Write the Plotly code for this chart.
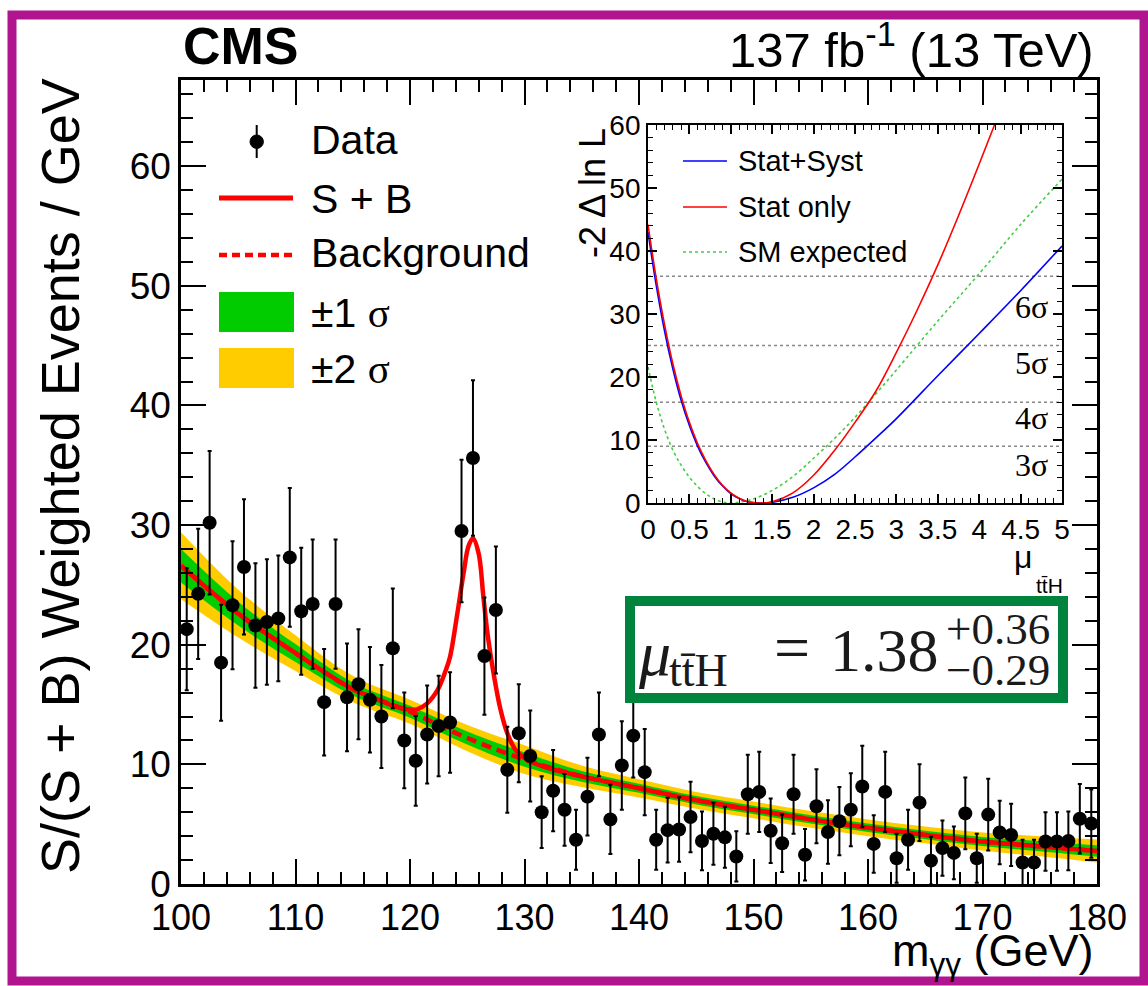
import plotly.graph_objects as go

# ---------------- data ----------------
mass = [100.5 + i for i in range(80)]
events = [21.3, 24.25, 30.2, 18.5, 23.3, 26.5, 21.6, 21.9, 22.2, 27.3,
          22.8, 23.4, 15.2, 23.4, 15.6, 16.7, 15.4, 14.0, 19.7, 12.0,
          10.3, 12.5, 13.2, 13.5, 29.5, 35.6, 19.05, 22.9, 9.55, 12.6,
          10.7, 6.0, 7.8, 6.2, 3.7, 7.3, 12.5, 5.4, 9.9, 12.4,
          9.35, 3.7, 4.5, 4.55, 5.6, 3.6, 4.2, 3.9, 2.3, 7.5,
          7.7, 4.45, 3.4, 7.5, 2.45, 6.5, 4.35, 5.25, 6.2, 8.15,
          3.35, 7.7, 2.15, 3.7, 6.8, 1.95, 3.0, 2.6, 5.9, 2.15,
          5.8, 4.3, 4.1, 1.8, 1.8, 3.55, 3.55, 3.6, 5.45, 5.05]
errors = [5.1, 5.45, 6.0, 4.85, 5.35, 5.65, 5.2, 5.25, 5.25, 5.8,
          5.3, 5.4, 4.45, 5.4, 4.5, 4.6, 4.4, 4.3, 5.0, 4.0,
          3.75, 4.1, 4.2, 4.2, 5.95, 6.5, 4.9, 5.3, 3.6, 4.1,
          3.8, 3.0, 3.4, 3.0, 2.5, 3.25, 3.5, 2.9, 3.7, 3.5,
          3.6, 2.5, 2.7, 2.7, 2.95, 2.45, 2.6, 2.55, 2.1, 3.3,
          3.35, 2.7, 2.4, 3.3, 2.15, 3.1, 2.65, 2.85, 3.05, 3.4,
          2.4, 3.35, 2.05, 2.5, 3.2, 2.0, 2.3, 2.2, 3.0, 2.05,
          3.0, 2.65, 2.6, 1.9, 1.9, 2.45, 2.45, 2.45, 2.9, 2.85]

bkg_x = [100, 105, 110, 115, 120, 125, 130, 135, 140, 145, 150, 155, 160, 165, 170, 175, 180]
bkg_y = [26.6, 22.6, 19.3, 16.3, 14.4, 12.2, 10.4, 9.0, 8.0, 7.0, 6.2, 5.4, 4.7, 4.1, 3.55, 3.15, 2.75]
bkg_1sig = [1.4, 1.0, 0.75, 0.55, 0.5, 0.55, 0.6, 0.45, 0.38, 0.35, 0.35, 0.35, 0.35, 0.35, 0.38, 0.42, 0.48]

sb_x = [100, 105, 110, 115, 117, 118.5, 119.7, 120.6, 121.5, 122.4, 123.1, 123.5, 124.1,
        124.7, 125.1, 125.5, 126.0, 126.4, 126.8, 127.3, 127.9, 128.5, 129.3, 130.2,
        132, 135, 140, 145, 150, 155, 160, 165, 170, 175, 180]
sb_y = [26.6, 22.6, 19.3, 16.3, 15.5, 14.9, 14.6, 14.6, 15.1, 16.2, 17.8, 19.0, 22.4,
        26.1, 28.2, 28.9, 27.6, 24.1, 20.7, 17.6, 14.6, 12.6, 11.1, 10.4,
        9.7, 9.0, 8.0, 7.0, 6.2, 5.4, 4.7, 4.1, 3.55, 3.15, 2.75]

mu_b = [0, 0.1, 0.2, 0.3, 0.4, 0.5, 0.6, 0.7, 0.8, 0.9, 1.0, 1.1, 1.2, 1.3, 1.38,
        1.5, 1.75, 2.0, 2.25, 2.5, 2.75, 3.0, 3.5, 4.0, 4.5, 5.0]
nll_b = [43.0, 34.5, 27.3, 21.3, 16.3, 12.3, 9.0, 6.4, 4.3, 2.7, 1.5, 0.7, 0.2, 0.03, 0,
         0.1, 0.9, 2.4, 4.5, 7.3, 10.3, 13.4, 20.2, 26.9, 33.7, 40.8]
mu_r = [0, 0.1, 0.2, 0.3, 0.4, 0.5, 0.6, 0.7, 0.8, 0.9, 1.0, 1.1, 1.2, 1.3, 1.38,
        1.5, 1.75, 2.0, 2.25, 2.5, 2.75, 3.0, 3.25, 3.5, 3.75, 4.0, 4.25]
nll_r = [44.2, 35.6, 28.3, 22.1, 17.0, 12.8, 9.4, 6.7, 4.5, 2.8, 1.6, 0.75, 0.22, 0.03, 0,
         0.18, 1.6, 4.4, 8.3, 12.8, 17.7, 23.9, 30.6, 37.8, 45.6, 53.8, 62.2]
mu_g = [0, 0.1, 0.2, 0.3, 0.4, 0.5, 0.6, 0.7, 0.8, 0.9, 1.0, 1.25, 1.5, 1.75, 2.0,
        2.25, 2.5, 2.75, 3.0, 3.5, 4.0, 4.5, 5.0]
nll_g = [21.6, 16.0, 11.7, 8.4, 6.0, 4.1, 2.6, 1.45, 0.65, 0.16, 0, 0.55, 2.0, 4.2, 7.1,
         10.2, 13.6, 17.3, 21.1, 28.9, 36.4, 44.2, 51.4]

sigma_levels = [3, 4, 5, 6]
sigma_label_y = [6.0, 13.5, 22.2, 31.1]
legend_labels = ["Data", "S + B", "Background", "±1 σ", "±2 σ"]
inset_labels = ["Stat+Syst", "Stat only", "SM expected"]

# ---------------- styling ----------------
SANS = "Liberation Sans, Arial, Helvetica, sans-serif"
SERIF = "Liberation Serif, Times New Roman, serif"
RED = "#ff0000"
GREEN = "#00cc00"
YELLOW = "#ffcc00"
W, H = 1148, 986
L, R, T, B = 181, 1097, 80, 884


def X(px):
    return (px - L) / (R - L)


def Y(py):
    return (B - py) / (B - T)


fig = go.Figure()

up2 = [b + 2 * s for b, s in zip(bkg_y, bkg_1sig)]
lo2 = [b - 2 * s for b, s in zip(bkg_y, bkg_1sig)]
up1 = [b + s for b, s in zip(bkg_y, bkg_1sig)]
lo1 = [b - s for b, s in zip(bkg_y, bkg_1sig)]

fig.add_trace(go.Scatter(x=bkg_x, y=up2, mode="lines", line=dict(width=0, shape="spline", color=YELLOW),
                         showlegend=False, hoverinfo="skip"))
fig.add_trace(go.Scatter(x=bkg_x, y=lo2, mode="lines", line=dict(width=0, shape="spline", color=YELLOW),
                         fill="tonexty", fillcolor=YELLOW, showlegend=False, hoverinfo="skip"))
fig.add_trace(go.Scatter(x=bkg_x, y=up1, mode="lines", line=dict(width=0, shape="spline", color=GREEN),
                         showlegend=False, hoverinfo="skip"))
fig.add_trace(go.Scatter(x=bkg_x, y=lo1, mode="lines", line=dict(width=0, shape="spline", color=GREEN),
                         fill="tonexty", fillcolor=GREEN, showlegend=False, hoverinfo="skip"))
fig.add_trace(go.Scatter(x=bkg_x, y=bkg_y, mode="lines",
                         line=dict(width=4.5, shape="spline", color=RED, dash="10px,6px"),
                         showlegend=False))
fig.add_trace(go.Scatter(x=sb_x, y=sb_y, mode="lines",
                         line=dict(width=4.5, shape="spline", color=RED), showlegend=False))
fig.add_trace(go.Scatter(x=mass, y=events, mode="markers",
                         marker=dict(size=14, color="black"),
                         error_y=dict(type="data", array=errors, color="black", thickness=2, width=2),
                         showlegend=False))

# inset curves
fig.add_trace(go.Scatter(x=mu_g, y=nll_g, mode="lines", xaxis="x2", yaxis="y2",
                         line=dict(color="#44cc44", width=1.6, dash="dot", shape="spline"), showlegend=False))
fig.add_trace(go.Scatter(x=mu_b, y=nll_b, mode="lines", xaxis="x2", yaxis="y2",
                         line=dict(color="#0000ff", width=1.6, shape="spline"), showlegend=False))
fig.add_trace(go.Scatter(x=mu_r, y=nll_r, mode="lines", xaxis="x2", yaxis="y2",
                         line=dict(color=RED, width=1.6, shape="spline"), showlegend=False))

shapes = []
annotations = []

# sigma reference lines in inset
for s in sigma_levels:
    shapes.append(dict(type="line", xref="x2", yref="y2", x0=0, x1=5, y0=s * s, y1=s * s,
                       line=dict(color="#888888", width=1.5, dash="dot"), layer="below"))
for s, yy in zip(sigma_levels, sigma_label_y):
    annotations.append(dict(xref="x2", yref="y2", x=4.86, y=yy, xanchor="right", yanchor="middle",
                            text=f"{s}σ", showarrow=False, font=dict(family=SERIF, size=32, color="black")))

# magenta frame
shapes.append(dict(type="rect", xref="paper", yref="paper", x0=X(12), x1=X(1144), y0=Y(15), y1=Y(981),
                   line=dict(color="#b0158f", width=9), fillcolor="rgba(0,0,0,0)", layer="above"))

# mu box
BOXC = "#1a1a1a"
shapes.append(dict(type="rect", xref="paper", yref="paper", x0=X(630), x1=X(1063), y0=Y(601), y1=Y(698),
                   line=dict(color="#00843d", width=10), fillcolor="white", layer="above"))
annotations.append(dict(xref="paper", yref="paper", x=X(636), y=Y(653), xanchor="left", yanchor="middle",
                        text="<i>μ</i>", showarrow=False,
                        font=dict(family=SERIF, size=64, color=BOXC)))
annotations.append(dict(xref="paper", yref="paper", x=X(667), y=Y(670), xanchor="left", yanchor="middle",
                        text="tt̄H", showarrow=False,
                        font=dict(family=SERIF, size=46, color=BOXC)))
annotations.append(dict(xref="paper", yref="paper", x=X(792), y=Y(647), xanchor="center", yanchor="middle",
                        text="=", showarrow=False,
                        font=dict(family=SERIF, size=64, color=BOXC)))
annotations.append(dict(xref="paper", yref="paper", x=X(941), y=Y(650), xanchor="right", yanchor="middle",
                        text="1.38", showarrow=False,
                        font=dict(family=SERIF, size=62, color=BOXC)))
annotations.append(dict(xref="paper", yref="paper", x=X(944), y=Y(629), xanchor="left", yanchor="middle",
                        text="+0.36", showarrow=False, font=dict(family=SERIF, size=45, color=BOXC)))
annotations.append(dict(xref="paper", yref="paper", x=X(944), y=Y(670), xanchor="left", yanchor="middle",
                        text="−0.29", showarrow=False, font=dict(family=SERIF, size=45, color=BOXC)))

# main legend
shapes.append(dict(type="line", xref="paper", yref="paper", x0=X(256.7), x1=X(256.7), y0=Y(125), y1=Y(158),
                   line=dict(color="black", width=2)))
shapes.append(dict(type="circle", xref="paper", yref="paper", x0=X(250), x1=X(263.4), y0=Y(135), y1=Y(148.4),
                   line=dict(color="black", width=1), fillcolor="black"))
shapes.append(dict(type="line", xref="paper", yref="paper", x0=X(219), x1=X(293), y0=Y(198), y1=Y(198),
                   line=dict(color=RED, width=5)))
shapes.append(dict(type="line", xref="paper", yref="paper", x0=X(219), x1=X(293), y0=Y(255), y1=Y(255),
                   line=dict(color=RED, width=4.5, dash="8px,5px")))
shapes.append(dict(type="rect", xref="paper", yref="paper", x0=X(219), x1=X(294), y0=Y(292), y1=Y(332),
                   line=dict(width=0), fillcolor=GREEN))
shapes.append(dict(type="rect", xref="paper", yref="paper", x0=X(219), x1=X(294), y0=Y(348), y1=Y(388),
                   line=dict(width=0), fillcolor=YELLOW))
leg_y = [140, 199, 253, 313, 369]
for lab, yy in zip(legend_labels, leg_y):
    txt = lab
    if "σ" in lab:
        txt = lab.replace("σ", f"<span style='font-family:{SERIF}'>σ</span>")
    annotations.append(dict(xref="paper", yref="paper", x=X(309), y=Y(yy), xanchor="left", yanchor="middle",
                            text=txt, showarrow=False, font=dict(family=SANS, size=41, color="black")))

# inset legend
inset_cols = ["#0000ff", RED, "#44cc44"]
inset_dash = ["solid", "solid", "dot"]
inset_y = [161, 207, 252]
for lab, c, d, yy in zip(inset_labels, inset_cols, inset_dash, inset_y):
    shapes.append(dict(type="line", xref="paper", yref="paper", x0=X(683), x1=X(727), y0=Y(yy), y1=Y(yy),
                       line=dict(color=c, width=1.6, dash=d)))
    annotations.append(dict(xref="paper", yref="paper", x=X(736), y=Y(yy), xanchor="left", yanchor="middle",
                            text=lab, showarrow=False, font=dict(family=SANS, size=29, color="black")))

# titles
annotations += [
    dict(xref="paper", yref="paper", x=X(181), y=Y(46), xanchor="left", yanchor="middle",
         text="<b>CMS</b>", showarrow=False, font=dict(family=SANS, size=52, color="black")),
    dict(xref="paper", yref="paper", x=X(1096), y=Y(46), xanchor="right", yanchor="middle",
         text="137 fb<sup>-1</sup> (13 TeV)", showarrow=False, font=dict(family=SANS, size=49, color="black")),
    dict(xref="paper", yref="paper", x=X(60), y=Y(476), xanchor="center", yanchor="middle", textangle=-90,
         text="S/(S + B) Weighted Events / GeV", showarrow=False, font=dict(family=SANS, size=54, color="black")),
    dict(xref="paper", yref="paper", x=X(1096), y=Y(953), xanchor="right", yanchor="middle",
         text="m<sub>γγ</sub> (GeV)", showarrow=False, font=dict(family=SANS, size=45, color="black")),
    dict(xref="paper", yref="paper", x=X(592), y=Y(126), xanchor="center", yanchor="top", textangle=-90,
         text="-2 Δ ln L", showarrow=False, font=dict(family=SANS, size=36, color="black")),
    dict(xref="paper", yref="paper", x=X(1023), y=Y(557), xanchor="center", yanchor="middle",
         text="μ", showarrow=False, font=dict(family=SANS, size=32, color="black")),
    dict(xref="paper", yref="paper", x=X(1049), y=Y(585), xanchor="center", yanchor="middle",
         text="tt̄H", showarrow=False, font=dict(family=SANS, size=21, color="black")),
]

axis_common = dict(showline=True, linecolor="black", mirror="allticks", ticks="inside",
                   tickcolor="black", showgrid=False, zeroline=False)

fig.update_layout(
    width=W, height=H,
    margin=dict(l=L, r=W - R, t=T, b=H - B, pad=0),
    paper_bgcolor="white", plot_bgcolor="white",
    font=dict(family=SANS, color="black"),
    showlegend=False,
    xaxis=dict(**axis_common, range=[100, 180], dtick=10, tick0=100, ticklen=25, tickwidth=2, linewidth=2.5,
               minor=dict(dtick=2, ticklen=12, tickwidth=2, ticks="inside", tickcolor="black"),
               tickfont=dict(size=36), domain=[0, 1]),
    yaxis=dict(**axis_common, range=[0, 67.2], dtick=10, tick0=0, ticklen=25, tickwidth=2, linewidth=2.5,
               minor=dict(dtick=2, ticklen=12, tickwidth=2, ticks="inside", tickcolor="black"),
               tickfont=dict(size=37), domain=[0, 1]),
    xaxis2=dict(**axis_common, anchor="y2", domain=[X(648), X(1062)], range=[0, 5], dtick=0.5, tick0=0,
                ticklen=9, tickwidth=1.5, linewidth=1.8,
                minor=dict(dtick=0.1, ticklen=5, tickwidth=1.2, ticks="inside", tickcolor="black"),
                tickfont=dict(size=28)),
    yaxis2=dict(**axis_common, anchor="x2", domain=[Y(503), Y(125)], range=[0, 60], dtick=10, tick0=0,
                ticklen=9, tickwidth=1.5, linewidth=1.8,
                minor=dict(dtick=2, ticklen=5, tickwidth=1.2, ticks="inside", tickcolor="black"),
                tickfont=dict(size=28)),
    shapes=shapes,
    annotations=annotations,
)

fig.write_html("out.html")
